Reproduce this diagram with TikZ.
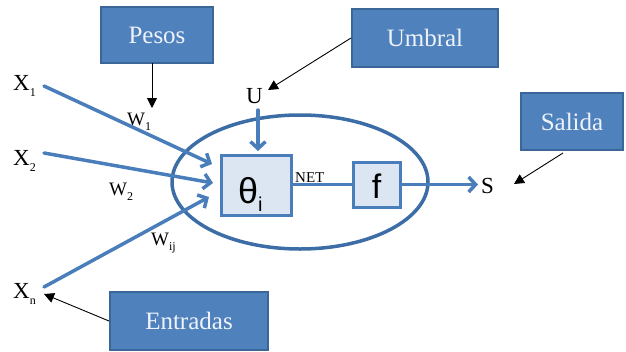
\documentclass[tikz,border=0pt]{standalone}
\usepackage{fontspec}
\setmainfont{Liberation Serif}
\newfontfamily\sansf{Liberation Sans}
\usetikzlibrary{arrows.meta,shapes.geometric}
\definecolor{boxfill}{HTML}{4F81BD}
\definecolor{boxdraw}{HTML}{3A6797}
\definecolor{lineblue}{HTML}{4A7EBB}
\definecolor{ellblue}{HTML}{3C6DA6}
\definecolor{lightfill}{HTML}{DCE6F2}
\definecolor{boxtext}{HTML}{EEF3FA}
\newcommand\sbs[1]{\raisebox{-0.6ex}{\fontsize{12}{12}\selectfont #1}}
\begin{document}
\begin{tikzpicture}[x=1pt,y=-1pt,
  labelbox/.style={draw=boxdraw, line width=2pt, fill=boxfill, text=boxtext,
    font=\fontsize{25}{29}\selectfont, inner sep=0},
  unitbox/.style={draw=lineblue, line width=3pt, fill=lightfill, inner sep=0},
  sig/.style={draw=lineblue, line width=3.5pt, line cap=round,
    -{Straight Barb[length=7pt,width=15pt]}},
  plain/.style={draw=lineblue, line width=3.5pt},
  ptr/.style={draw=black, line width=0.9pt, -{Triangle[length=10pt,width=10pt]}},
  var/.style={font=\fontsize{23}{27}\selectfont, inner sep=0, anchor=base west},
  wlab/.style={font=\fontsize{19}{23}\selectfont, inner sep=0, anchor=base west}]
\useasboundingbox (0,0) rectangle (626,351);
% boxes
\node[labelbox, minimum width=112pt, minimum height=56pt] (pesos) at (157,35) {Pesos};
\node[labelbox, minimum width=146pt, minimum height=58pt] (umbral) at (425,38) {Umbral};
\node[labelbox, minimum width=102pt, minimum height=57pt] (salida) at (572,121.5) {Salida};
\node[labelbox, minimum width=158pt, minimum height=58pt] (entradas) at (189,321) {Entradas};
% ellipse
\node[ellipse, draw=ellblue, line width=3.5pt, minimum width=256pt, minimum height=134pt, inner sep=0] (cell) at (300,182) {};
% unit boxes
\node[unitbox, minimum width=70pt, minimum height=60pt] (theta) at (256,185) {};
\node[font=\sansf\fontsize{36}{40}\selectfont, inner sep=0, anchor=base west] (thetalab) at (238,203) {θ\raisebox{-0.45ex}{\fontsize{20}{20}\selectfont i}};
\node[unitbox, minimum width=47pt, minimum height=45pt] (f) at (376.5,184.5) {};
\node[font=\sansf\fontsize{34}{38}\selectfont, inner sep=0, anchor=base] (flab) at (376.5,198) {f};
% variable labels
\node[var] (x1) at (13,90) {X\sbs{1}};
\node[var] (x2) at (13,165) {X\sbs{2}};
\node[var] (xn) at (13,298) {X\sbs{n}};
\node[var] (u) at (246,103) {U};
\node[var] (s) at (481,193) {S};
\node[wlab] (w1) at (127,125) {W\sbs{1}};
\node[wlab] (w2) at (109,195) {W\sbs{2}};
\node[wlab] (wij) at (151,245) {W\sbs{ij}};
\node[font=\fontsize{15}{17}\selectfont, inner sep=0, anchor=base west] (net) at (295,182) {NET};
% coordinates
\coordinate (x1s) at (44,86);
\coordinate (x2s) at (44,153);
\coordinate (xns) at (44,287);
\coordinate (t1) at (212,164);
\coordinate (t2) at (213,183);
\coordinate (tn) at (209,197);
\coordinate (us) at (258,110);
\coordinate (ut) at (258,151);
\coordinate (st) at (478,184.5);
\coordinate (pt) at (152,108);
\coordinate (ps) at (152,63);
\coordinate (umt) at (268,90);
\coordinate (sat) at (514,184);
\coordinate (sas) at (563,153);
\coordinate (ent) at (44,294);
% signal arrows
\draw[sig] (x1s) -- (t1);
\draw[sig] (x2s) -- (t2);
\draw[sig] (xns) -- (tn);
\draw[sig] (us) -- (ut);
\draw[plain] (theta.east |- f.west) -- (f.west);
\draw[sig] (f.east) -- (st);
% pointer arrows
\draw[ptr] (ps) -- (pt);
\draw[ptr] (umbral.west) -- (umt);
\draw[ptr] (sas) -- (sat);
\draw[ptr] (entradas.west) -- (ent);
\end{tikzpicture}
\end{document}
